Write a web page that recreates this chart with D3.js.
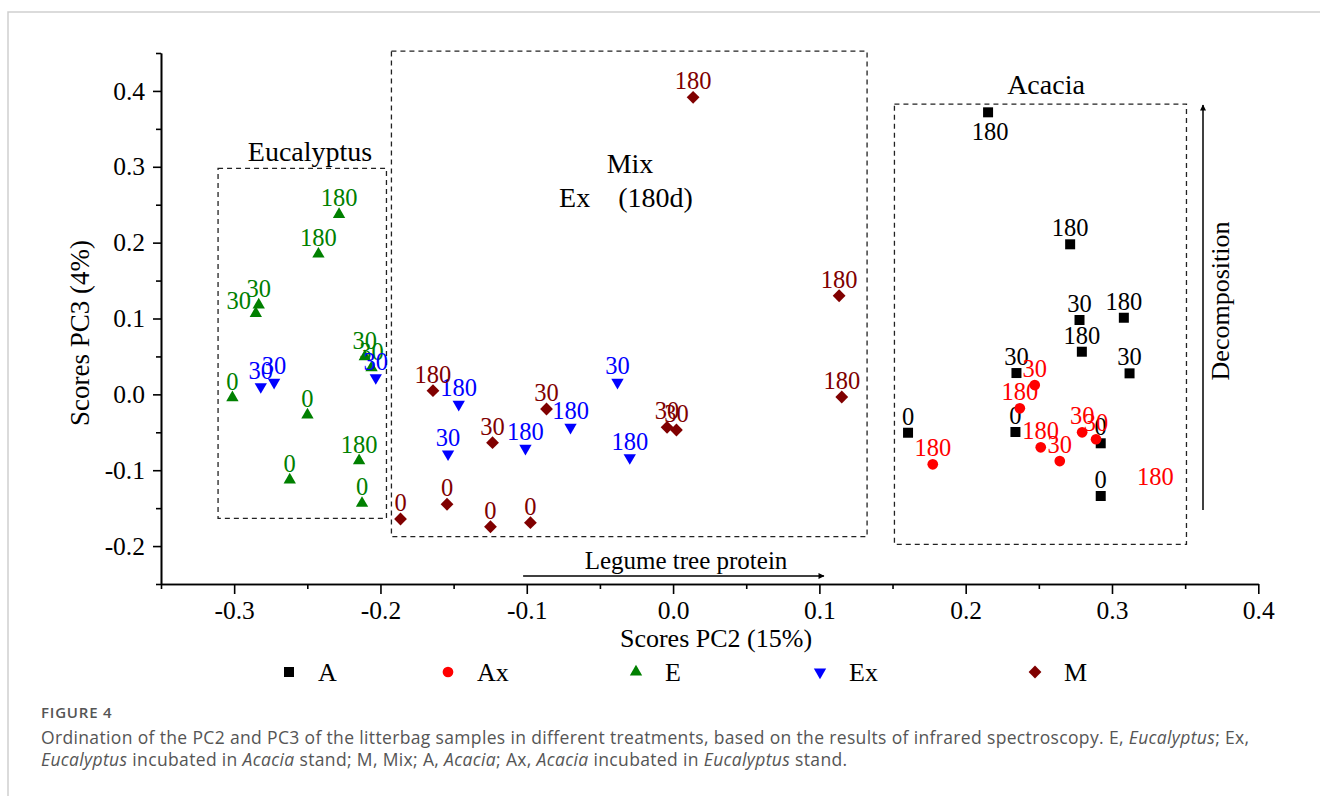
<!doctype html>
<html>
<head>
<meta charset="utf-8">
<title>Figure 4 - PC2 vs PC3</title>
<style>
  body { margin:0; background:#fff; }
  svg { display:block; }
  .ax path, .ax line { stroke:#000; stroke-width:1.6px; }
  .ax text { font-family:"Liberation Serif", "Times New Roman", serif; font-size:25.5px; fill:#000; }
  .serif { font-family:"Liberation Serif", "Times New Roman", serif; }
  .box { fill:none; stroke:#222; stroke-width:1.3px; stroke-dasharray:5,4; }
  .cap { font-family:"Open Sans", "Noto Sans", sans-serif; fill:#555; }
</style>
<script src="https://cdn.jsdelivr.net/npm/d3@7"></script>
</head>
<body>
<svg id="chart" width="1320" height="796"></svg>
<script>
// series: [PC2, PC3, days label]
var seriesNames = ["A", "Ax", "E", "Ex", "M"]
var seriesColors = ["#000000", "#ff0000", "#008000", "#0000ff", "#800000"]

var A = [
  [0.2153, 0.3718, "180"], [0.2714, 0.1978, "180"], [0.2778, 0.0980, "30"],
  [0.3081, 0.1010, "180"], [0.2794, 0.0562, "180"], [0.3120, 0.0277, "30"],
  [0.2347, 0.0281, "30"], [0.1606, -0.0506, "0"], [0.2340, -0.0496, "0"],
  [0.2923, -0.0645, "0"], [0.2923, -0.1340, "0"]
]
var Ax = [
  [0.2472, 0.0123, "30"], [0.2370, -0.0184, "180"], [0.2796, -0.0500, "30"],
  [0.2891, -0.0592, "30"], [0.2513, -0.0698, "180"], [0.2643, -0.0879, "30"],
  [0.1775, -0.0922, "180"]
]
var E = [
  [-0.2283, 0.2373, "180"], [-0.2424, 0.1850, "180"], [-0.2832, 0.1178, "30"],
  [-0.2852, 0.1068, "30"], [-0.2107, 0.0496, "30"], [-0.2061, 0.0351, "30"],
  [-0.3012, -0.0044, "0"], [-0.2499, -0.0272, "0"], [-0.2146, -0.0875, "180"],
  [-0.2620, -0.1129, "0"], [-0.2126, -0.1436, "0"]
]
var Ex = [
  [-0.2818, 0.0101, "30"], [-0.2727, 0.0159, "30"], [-0.2032, 0.0219, "30"],
  [-0.1465, -0.0131, "180"], [-0.1538, -0.0786, "30"], [-0.1009, -0.0711, "180"],
  [-0.0701, -0.0434, "180"], [-0.0380, 0.0159, "30"], [-0.0296, -0.0835, "180"]
]
var M = [
  [0.0137, 0.3916, "180"], [0.1135, 0.1300, "180"], [0.1153, -0.0035, "180"],
  [-0.1641, 0.0048, "180"], [-0.0865, -0.0193, "30"], [-0.1234, -0.0637, "30"],
  [-0.0041, -0.0434, "30"], [0.0023, -0.0470, "30"], [-0.1863, -0.1643, "0"],
  [-0.1545, -0.1449, "0"], [-0.1248, -0.1745, "0"], [-0.0975, -0.1692, "0"]
]
var seriesData = [A, Ax, E, Ex, M]

// a lone Ax label with no visible marker in the figure
var strayLabels = [[0.3297, -0.1086, "180", "Ax"]]

// group boxes: name, x0, x1, y0, y1
var boxes = [
  ["Eucalyptus", -0.311, -0.1959, -0.1634, 0.298],
  ["Mix", -0.1925, 0.1326, -0.1876, 0.4526],
  ["Acacia", 0.1513, 0.3509, -0.1977, 0.3827]
]

var xTicks = [-0.3, -0.2, -0.1, 0.0, 0.1, 0.2, 0.3, 0.4]
var xMinor = [-0.35, -0.25, -0.15, -0.05, 0.05, 0.15, 0.25, 0.35]
var yTicks = [-0.2, -0.1, 0.0, 0.1, 0.2, 0.3, 0.4]
var yMinor = [-0.25, -0.15, -0.05, 0.05, 0.15, 0.25, 0.35, 0.45]

var svg = d3.select("#chart")
var x = d3.scaleLinear().domain([-0.35, 0.4]).range([161, 1258.3])
var y = d3.scaleLinear().domain([-0.25, 0.45]).range([584, 53])
var fmt = function(d) { return d.toFixed(1) }

// page frame
svg.append("path").attr("d", "M8,796V12H1320").attr("fill", "none")
  .attr("stroke", "#cfcfcf").attr("stroke-width", 1.5)

// axes
svg.append("g").attr("class", "ax").attr("transform", "translate(0,584)")
  .call(d3.axisBottom(x).tickValues(xMinor).tickSize(5).tickFormat("").tickSizeOuter(0))
svg.append("g").attr("class", "ax").attr("transform", "translate(0,584)")
  .call(d3.axisBottom(x).tickValues(xTicks).tickSize(10).tickPadding(7).tickFormat(fmt).tickSizeOuter(0))
svg.append("g").attr("class", "ax").attr("transform", "translate(161,0)")
  .call(d3.axisLeft(y).tickValues(yMinor).tickSize(5).tickFormat("").tickSizeOuter(0))
svg.append("g").attr("class", "ax").attr("transform", "translate(161,0)")
  .call(d3.axisLeft(y).tickValues(yTicks).tickSize(8).tickPadding(8).tickFormat(fmt).tickSizeOuter(0))

svg.append("text").attr("class", "serif").attr("x", 716).attr("y", 647)
  .attr("text-anchor", "middle").style("font-size", "26px").text("Scores PC2 (15%)")
svg.append("text").attr("class", "serif")
  .attr("transform", "translate(89,333) rotate(-90)")
  .attr("text-anchor", "middle").style("font-size", "27px").text("Scores PC3 (4%)")

// dashed group boxes
svg.selectAll("rect.box").data(boxes).enter().append("rect")
  .attr("class", "box")
  .attr("x", function(d) { return x(d[1]) })
  .attr("y", function(d) { return y(d[4]) })
  .attr("width", function(d) { return x(d[2]) - x(d[1]) })
  .attr("height", function(d) { return y(d[3]) - y(d[4]) })

svg.append("text").attr("class", "serif").attr("x", 310).attr("y", 161)
  .attr("text-anchor", "middle").style("font-size", "28px").text("Eucalyptus")
svg.append("text").attr("class", "serif").attr("x", 1046).attr("y", 94)
  .attr("text-anchor", "middle").style("font-size", "28px").text("Acacia")
svg.append("text").attr("class", "serif").attr("x", 630).attr("y", 173)
  .attr("text-anchor", "middle").style("font-size", "28px").text("Mix")
svg.append("text").attr("class", "serif").attr("x", 626).attr("y", 207)
  .attr("text-anchor", "middle").style("font-size", "28px").attr("xml:space", "preserve").text("Ex    (180d)")

// arrows
var defs = svg.append("defs")
defs.append("marker").attr("id", "head").attr("viewBox", "0 0 10 10")
  .attr("refX", 9).attr("refY", 5).attr("markerWidth", 8).attr("markerHeight", 6)
  .attr("markerUnits", "userSpaceOnUse").attr("orient", "auto")
  .append("path").attr("d", "M0,0L10,5L0,10z").attr("fill", "#000")

svg.append("line").attr("x1", x(-0.1025)).attr("x2", x(0.1031)).attr("y1", 576).attr("y2", 576)
  .attr("stroke", "#000").attr("stroke-width", 1.5).attr("marker-end", "url(#head)")
svg.append("text").attr("class", "serif").attr("x", 686).attr("y", 569)
  .attr("text-anchor", "middle").style("font-size", "25px").text("Legume tree protein")

svg.append("line").attr("x1", 1203).attr("x2", 1203).attr("y1", 510).attr("y2", 105)
  .attr("stroke", "#000").attr("stroke-width", 1.5).attr("marker-end", "url(#head)")
svg.append("text").attr("class", "serif")
  .attr("transform", "translate(1229,301) rotate(-90)")
  .attr("text-anchor", "middle").style("font-size", "26px").text("Decomposition")

// markers
function symbolFor(name) {
  if (name == "A") return d3.symbol().type(d3.symbolSquare).size(100)()
  if (name == "Ax") return d3.symbol().type(d3.symbolCircle).size(90)()
  if (name == "E" || name == "Ex") return d3.symbol().type(d3.symbolTriangle).size(66)()
  return d3.symbol().type(d3.symbolSquare).size(82)()
}
function rotFor(name) {
  if (name == "Ex") return " rotate(180)"
  if (name == "M") return " rotate(45)"
  return ""
}

// label nudges for a few crowded points: series|index -> [dx, dy]
var nudge = { "A|0": [2, 28], "E|3": [-17, -4] }

seriesNames.forEach(function(name, si) {
  var g = svg.append("g").attr("class", "series-" + name)
  var col = seriesColors[si]
  g.selectAll("path").data(seriesData[si]).enter().append("path")
    .attr("d", symbolFor(name))
    .attr("transform", function(d) { return "translate(" + x(d[0]) + "," + y(d[1]) + ")" + rotFor(name) })
    .attr("fill", col)
  g.selectAll("text").data(seriesData[si]).enter().append("text")
    .attr("class", "serif")
    .attr("x", function(d, i) { var n = nudge[name + "|" + i]; return x(d[0]) + (n ? n[0] : 0) })
    .attr("y", function(d, i) { var n = nudge[name + "|" + i]; return y(d[1]) + (n ? n[1] : -8) })
    .attr("text-anchor", "middle").style("font-size", "24.5px").attr("fill", col)
    .text(function(d) { return d[2] })
})

svg.selectAll("text.stray").data(strayLabels).enter().append("text")
  .attr("class", "serif stray")
  .attr("x", function(d) { return x(d[0]) }).attr("y", function(d) { return y(d[1]) })
  .attr("dy", "0.35em").attr("text-anchor", "middle").style("font-size", "24.5px")
  .attr("fill", function(d) { return seriesColors[seriesNames.indexOf(d[3])] })
  .text(function(d) { return d[2] })

// legend
var legendX = [289, 448, 636, 820, 1035]
var leg = svg.selectAll("g.leg").data(seriesNames).enter().append("g")
  .attr("class", "leg").attr("transform", function(d, i) { return "translate(" + legendX[i] + ",672)" })
leg.append("path").attr("d", function(d) { return symbolFor(d) })
  .attr("transform", function(d) { return rotFor(d) })
  .attr("fill", function(d, i) { return seriesColors[i] })
leg.append("text").attr("class", "serif").attr("x", 29).attr("dy", "0.35em")
  .style("font-size", "26px").text(function(d) { return d })

// caption
svg.append("text").attr("class", "cap").attr("x", 41).attr("y", 718)
  .style("font-size", "15px").style("font-weight", "600").style("letter-spacing", "0.8px")
  .attr("fill", "#6a6a6a").text("FIGURE 4")
var cap1 = svg.append("text").attr("class", "cap").attr("x", 41).attr("y", 744)
  .style("font-size", "17.5px").style("letter-spacing", "0.35px")
cap1.append("tspan").text("Ordination of the PC2 and PC3 of the litterbag samples in different treatments, based on the results of infrared spectroscopy. E, ")
cap1.append("tspan").style("font-style", "italic").text("Eucalyptus")
cap1.append("tspan").text("; Ex,")
var cap2 = svg.append("text").attr("class", "cap").attr("x", 41).attr("y", 766)
  .style("font-size", "17.5px").style("letter-spacing", "0.35px")
cap2.append("tspan").style("font-style", "italic").text("Eucalyptus")
cap2.append("tspan").text(" incubated in ")
cap2.append("tspan").style("font-style", "italic").text("Acacia")
cap2.append("tspan").text(" stand; M, Mix; A, ")
cap2.append("tspan").style("font-style", "italic").text("Acacia")
cap2.append("tspan").text("; Ax, ")
cap2.append("tspan").style("font-style", "italic").text("Acacia")
cap2.append("tspan").text(" incubated in ")
cap2.append("tspan").style("font-style", "italic").text("Eucalyptus")
cap2.append("tspan").text(" stand.")
</script>
</body>
</html>
